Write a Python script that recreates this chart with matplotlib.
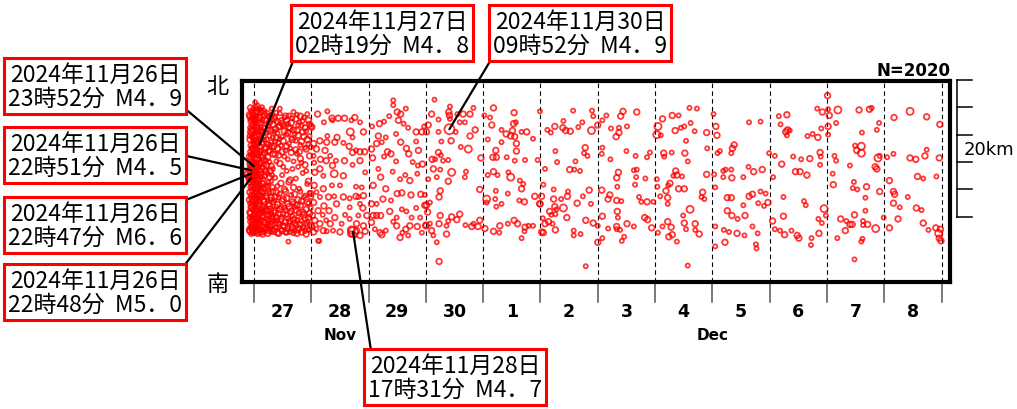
import matplotlib.pyplot as plt

plt.rcParams['font.family'] = ['DejaVu Sans']

# t = days since 2024-11-27 00:00, km = distance from the south edge, m = magnitude class
# dense part of Nov 27, read column by column: (t, [km...], "magnitudes")
nov27_cols = [
    (-0.08, [24.4, 21.3, 18.3, 15.1, 12.0, 9.4, 7.6], "2121212"),
    (-0.07, [24.1, 22.5, 20.8, 19.0, 17.2, 16.0, 14.6, 13.1, 11.5, 10.2, 8.8, 7.4], "212121221212"),
    (-0.06, [23.7, 21.9, 18.6, 15.5, 12.7, 10.0, 7.9, 25.4], "12121212"),
    (-0.05, [25.0, 23.4, 21.6, 19.9, 18.1, 16.6, 15.2, 13.8, 12.3, 10.9, 9.5, 8.0, 7.0], "1212211212121"),
    (-0.04, [22.2, 19.6, 16.9, 14.0, 11.0, 8.5], "212121"),
    (-0.03, [24.6, 22.9, 21.2, 19.4, 17.7, 16.2, 14.9, 13.4, 12.0, 10.6, 9.1, 7.7], "221212122122"),
    (-0.02, [24.0, 20.9, 18.4, 14.5, 11.7, 9.3, 7.4], "2121212"),
    (-0.01, [25.3, 23.8, 22.1, 20.5, 18.6, 17.0, 15.6, 14.1, 12.7, 11.2, 9.8, 8.3, 7.1], "1221212212121"),
    (0.00, [23.1, 19.9, 17.4, 15.0, 12.4, 9.6, 7.8], "1212121"),
    (0.01, [24.3, 22.7, 21.0, 19.3, 17.6, 15.9, 14.4, 12.9, 11.4, 10.0, 8.6, 7.3], "212212121221"),
    (0.02, [23.4, 20.1, 16.8, 13.7, 10.9, 8.0], "121212"),
    (0.03, [25.6, 23.9, 22.3, 20.6, 18.9, 17.3, 15.4, 13.6, 12.1, 10.7, 9.2, 7.8], "121221212122"),
    (0.04, [24.9, 21.8, 18.7, 16.1, 14.0, 11.6, 8.4], "2121212"),
    (0.05, [24.7, 23.1, 21.4, 19.7, 18.0, 16.4, 14.8, 13.3, 11.8, 10.3, 8.9, 7.5], "212121221212"),
    (0.06, [25.8, 22.5, 19.2, 15.8, 12.6, 9.8, 7.0], "1212121"),
    (0.07, [25.1, 22.0, 20.2, 18.4, 16.8, 15.1, 13.7, 12.2, 10.8, 9.4, 7.9], "12212121221"),
    (0.08, [23.6, 20.9, 17.0, 14.9, 11.9, 9.1], "212121"),
    (0.09, [24.0, 23.2, 21.5, 19.8, 17.9, 16.3, 14.5, 12.8, 11.3, 9.9, 8.4, 7.2], "221212121212"),
    (0.10, [23.9, 20.6, 17.3, 14.2, 11.1, 8.7], "212121"),
    (0.11, [25.2, 22.1, 18.8, 16.0, 13.3, 10.0, 7.7], "1212121"),
    (0.12, [24.8, 22.6, 20.9, 19.1, 17.4, 15.7, 14.0, 12.4, 10.6, 9.0, 7.6], "21212212121"),
    (0.135, [22.0, 18.2, 15.3, 13.1, 10.2, 7.3], "121212"),
    (0.15, [23.7, 21.9, 20.3, 18.5, 16.7, 14.3, 12.6, 11.0, 9.6, 8.1, 7.0], "12121212212"),
    (0.165, [24.9, 21.2, 17.8, 15.0, 12.0, 8.9], "212121"),
    (0.18, [24.5, 22.4, 20.7, 18.8, 17.1, 15.5, 13.5, 11.7, 10.1, 8.7, 7.4], "22121212121"),
    (0.195, [23.1, 19.4, 16.4, 13.8, 10.8, 7.9], "121212"),
    (0.21, [23.5, 21.8, 19.6, 17.8, 16.1, 14.2, 12.5, 10.5, 9.3, 7.7], "2121212212"),
    (0.225, [24.6, 20.8, 17.0, 12.9, 9.8, 8.1], "212121"),
    (0.24, [24.2, 22.2, 20.1, 18.2, 15.8, 13.9, 11.9, 10.4, 8.5, 7.1], "1212121212"),
    (0.255, [22.8, 19.1, 14.6, 11.4, 9.1, 7.5], "121212"),
    (0.27, [23.3, 21.3, 19.2, 17.5, 15.3, 13.0, 11.1, 9.7, 8.2], "212121212"),
    (0.285, [24.1, 20.0, 16.2, 12.0, 10.6, 7.8], "212121"),
    (0.30, [24.4, 22.1, 20.4, 16.9, 14.7, 12.3, 10.0, 8.8, 7.3], "121212121"),
    (0.315, [23.6, 19.7, 15.6, 13.8, 9.6, 8.4], "121212"),
    (0.33, [23.0, 21.1, 18.7, 16.5, 13.2, 11.6, 9.2, 7.6], "21212121"),
    (0.35, [7.4, 8.9, 10.4, 11.9, 19.8, 21.9, 23.8], "2121212"),
    (0.37, [24.1, 22.3, 20.5, 18.6, 15.2, 12.4, 10.1, 8.0], "12121221"),
    (0.39, [7.9, 9.4, 11.0, 13.1, 17.6, 21.0, 24.7], "1212121"),
    (0.41, [23.4, 21.7, 19.5, 14.0, 11.3, 9.0, 7.2], "2121212"),
    (0.43, [7.1, 8.6, 10.0, 12.3, 18.5, 20.3, 22.6], "2121212"),
    (0.45, [24.6, 22.8, 20.9, 17.3, 12.9, 10.6, 8.4], "1212121"),
    (0.47, [7.6, 9.2, 10.9, 14.4, 19.9, 23.5], "121212"),
    (0.49, [23.1, 21.2, 19.0, 15.6, 11.8, 9.5, 7.5], "2121212"),
    (0.51, [8.2, 9.9, 12.1, 16.8, 20.6, 22.8], "212121"),
    (0.53, [24.0, 22.0, 18.3, 13.5, 10.8, 8.1], "121212"),
    (0.55, [7.2, 8.7, 10.5, 13.2, 19.2, 24.2], "121212"),
    (0.57, [23.6, 21.5, 19.8, 16.2, 12.2, 9.8, 7.3], "2121212"),
    (0.59, [7.8, 9.3, 11.4, 17.9, 21.8, 23.1], "212121"),
    (0.61, [24.3, 22.6, 20.2, 14.6, 11.0, 8.7], "121221"),
    (0.63, [7.3, 8.9, 10.1, 14.9, 19.5, 22.4], "121212"),
    (0.65, [23.2, 21.0, 18.9, 12.7, 10.3, 7.8], "212121"),
    (0.67, [8.0, 9.6, 11.7, 16.5, 20.8, 23.9], "212121"),
    (0.69, [24.8, 22.2, 17.6, 13.8, 11.5, 9.1, 7.1], "1212121"),
    (0.71, [7.5, 8.6, 10.9, 12.8, 21.6], "12121"),
    (0.73, [23.8, 20.6, 19.3, 15.1, 10.5, 8.3], "212121"),
    (0.75, [7.1, 9.0, 11.2, 18.7, 22.1, 24.4], "212121"),
    (0.77, [22.9, 21.4, 16.8, 12.0, 9.6, 7.6], "121212"),
    (0.79, [7.8, 10.1, 13.6, 19.0, 23.3], "12121"),
    (0.81, [24.2, 20.0, 18.0, 13.2, 11.2, 8.5], "212121"),
    (0.83, [7.3, 8.9, 11.8, 17.4, 20.5, 22.8], "212121"),
    (0.85, [23.5, 21.9, 15.9, 10.2, 7.9], "12121"),
    (0.87, [8.1, 9.8, 12.4, 21.2, 24.0], "12121"),
    (0.89, [22.5, 19.6, 17.1, 12.6, 9.3, 7.4], "212121"),
    (0.91, [7.0, 8.5, 10.6, 16.2, 19.4, 22.0], "212121"),
    (0.93, [24.5, 20.8, 14.3, 11.6, 8.8], "12121"),
    (0.95, [7.6, 9.4, 11.5, 14.7, 20.1, 23.6], "121212"),
    (0.97, [23.0, 21.3, 18.4, 13.0, 10.0, 7.7], "212121"),
    (0.99, [8.3, 10.8, 12.9, 19.7, 22.7], "21212"),
]
nov27_extra = [(0.14, 25.5, 1), (0.31, 25.3, 1), (0.45, 25.3, 1), (0.02, 26.2, 1), (0.60, 5.9, 1)]

nov28 = [
    (1.11, 24.5, 2), (1.28, 24.9, 1), (1.36, 23.9, 2), (1.37, 23.6, 1), (1.47, 23.9, 2), (1.58, 23.9, 2),
    (1.70, 23.6, 1), (1.76, 24.0, 2), (1.85, 23.3, 1), (1.22, 23.3, 1), (1.01, 22.6, 2), (1.68, 21.9, 3),
    (1.72, 21.1, 1), (1.91, 21.9, 2), (1.45, 21.1, 2), (1.28, 21.3, 1), (1.15, 20.6, 2), (1.27, 20.4, 2),
    (1.41, 20.4, 2), (1.04, 20.2, 2), (1.09, 19.4, 2), (1.56, 20.3, 1), (1.66, 19.8, 2), (1.78, 19.2, 1),
    (1.93, 19.0, 2), (1.72, 18.9, 2), (1.85, 19.0, 2), (1.24, 19.2, 2), (1.33, 18.4, 1), (1.04, 18.4, 1),
    (1.16, 17.9, 2), (1.26, 17.7, 2), (1.05, 17.4, 1), (1.43, 17.7, 1), (1.58, 17.7, 2), (1.85, 17.7, 2),
    (1.72, 17.1, 1), (1.15, 16.5, 2), (1.37, 17.0, 2), (1.40, 15.8, 3), (1.21, 15.5, 1), (1.06, 16.0, 2),
    (1.56, 15.5, 2), (1.94, 16.0, 1), (1.36, 14.1, 1), (1.50, 14.1, 1), (1.05, 14.1, 2), (1.78, 13.9, 1),
    (1.88, 13.8, 1), (1.21, 13.6, 2), (1.09, 13.1, 1), (0.99, 12.5, 2), (1.15, 12.4, 1), (1.30, 12.4, 2),
    (1.40, 12.5, 1), (1.56, 12.4, 2), (1.78, 12.5, 2), (1.82, 12.4, 1), (1.91, 12.6, 2), (1.67, 12.2, 1),
    (1.04, 11.6, 2), (1.22, 11.1, 2), (1.44, 11.4, 2), (1.85, 11.4, 1), (1.67, 10.9, 1), (1.90, 10.8, 2),
    (1.12, 10.4, 2), (1.31, 10.4, 2), (1.02, 9.7, 2), (1.20, 9.8, 1), (1.41, 9.4, 2), (1.59, 9.8, 1),
    (1.82, 9.7, 1), (1.67, 9.2, 1), (1.06, 9.0, 2), (1.26, 9.0, 1), (1.97, 9.7, 2), (1.15, 8.5, 2),
    (1.33, 8.5, 2), (1.53, 8.5, 1), (1.79, 8.5, 2), (1.91, 8.2, 2), (1.01, 8.1, 2), (1.09, 7.7, 1),
    (1.21, 7.5, 2), (1.38, 7.5, 1), (1.50, 7.3, 2), (1.70, 7.6, 3), (1.79, 7.5, 2), (1.69, 7.0, 2),
    (1.85, 6.8, 2), (1.76, 6.8, 1), (1.94, 7.4, 2), (1.27, 7.4, 1), (1.14, 6.0, 1), (1.04, 7.3, 2),
    (1.12, 6.0, 1),
]
nov29 = [
    (2.43, 26.5, 1), (2.43, 25.8, 1), (2.65, 25.3, 1), (2.50, 24.8, 2), (2.56, 24.5, 2), (2.36, 24.2, 1),
    (2.52, 23.6, 2), (2.61, 23.1, 1), (2.69, 22.5, 1), (2.19, 23.1, 2), (2.27, 23.4, 1), (2.06, 22.7, 1),
    (2.83, 21.9, 2), (2.93, 21.9, 2), (2.97, 22.7, 1), (2.17, 21.3, 2), (2.30, 21.1, 1), (2.48, 21.6, 1),
    (2.56, 20.4, 2), (2.23, 20.4, 1), (2.14, 20.2, 2), (2.83, 20.5, 1), (2.33, 19.0, 2), (2.39, 18.7, 2),
    (2.27, 18.3, 1), (2.05, 19.4, 2), (2.66, 19.5, 2), (2.70, 18.7, 2), (2.87, 19.2, 2), (2.07, 18.1, 2),
    (2.48, 17.6, 1), (2.77, 17.5, 1), (2.86, 17.0, 1), (2.94, 17.2, 2), (2.17, 16.5, 1), (2.21, 15.3, 2),
    (2.42, 16.1, 1), (2.64, 15.6, 1), (2.55, 15.0, 1), (2.72, 14.8, 2), (2.85, 15.8, 1), (2.08, 14.1, 2),
    (2.30, 13.6, 2), (2.50, 12.9, 2), (2.58, 13.0, 2), (2.74, 12.7, 2), (2.91, 12.8, 2), (2.98, 12.7, 1),
    (2.25, 12.1, 2), (2.39, 11.9, 1), (2.05, 11.4, 2), (2.14, 11.4, 1), (2.98, 11.2, 2), (2.37, 10.3, 2),
    (2.58, 10.6, 1), (2.66, 10.3, 1), (2.83, 10.8, 1), (2.08, 9.7, 2), (2.14, 9.7, 2), (2.21, 9.7, 2),
    (2.49, 9.4, 1), (2.75, 9.4, 1), (2.90, 9.4, 1), (2.05, 8.7, 2), (2.43, 8.8, 1), (2.49, 8.2, 2),
    (2.72, 8.2, 2), (2.85, 8.1, 2), (3.00, 8.3, 2), (2.11, 7.7, 1), (2.20, 7.2, 2), (2.30, 7.5, 1),
    (2.59, 7.2, 1), (2.65, 7.7, 2), (2.93, 7.2, 1), (2.55, 6.5, 2), (2.23, 6.9, 2), (2.69, 6.8, 1),
]
nov30 = [
    (3.15, 26.6, 1), (3.42, 25.6, 1), (3.40, 24.8, 2), (3.41, 24.3, 2), (3.42, 23.8, 1), (3.10, 24.5, 2),
    (3.22, 23.7, 1), (3.04, 22.9, 2), (3.01, 21.9, 2), (3.55, 24.5, 1), (3.65, 24.5, 2), (3.77, 24.5, 2),
    (3.83, 25.4, 1), (3.59, 23.3, 1), (3.68, 23.3, 1), (3.52, 21.9, 1), (3.86, 22.2, 2), (3.22, 21.9, 1),
    (3.27, 20.5, 1), (3.44, 20.6, 2), (3.61, 19.7, 1), (3.77, 21.3, 2), (3.74, 19.4, 3), (3.22, 18.9, 2),
    (3.26, 18.5, 1), (3.16, 17.9, 1), (3.11, 17.9, 2), (3.30, 17.7, 1), (3.39, 17.8, 1), (3.96, 18.1, 2),
    (3.13, 16.5, 2), (3.25, 16.4, 1), (3.45, 16.0, 3), (3.39, 14.7, 2), (3.19, 15.3, 1), (3.70, 16.1, 1),
    (3.68, 15.3, 1), (3.04, 15.0, 1), (3.25, 13.3, 2), (3.23, 12.4, 2), (3.07, 11.6, 1), (3.94, 13.5, 2),
    (3.01, 11.2, 2), (3.03, 10.2, 2), (3.25, 9.7, 2), (3.45, 9.5, 2), (3.59, 9.9, 2), (3.54, 9.1, 2),
    (3.39, 8.9, 1), (3.36, 8.2, 1), (3.23, 8.5, 2), (3.07, 8.5, 1), (3.00, 8.2, 2), (3.10, 7.5, 2),
    (3.13, 6.8, 1), (3.19, 5.8, 1), (3.36, 7.0, 2), (3.69, 8.3, 1), (3.80, 8.1, 2), (3.83, 8.5, 1),
    (3.94, 9.0, 2), (3.91, 8.1, 2), (3.23, 3.0, 2),
]
dec1 = [
    (4.18, 25.4, 2), (4.12, 24.0, 1), (4.02, 24.3, 1), (4.54, 24.7, 2), (4.57, 23.3, 1), (4.53, 23.1, 2),
    (4.15, 22.9, 2), (4.32, 22.2, 1), (4.40, 21.6, 2), (4.48, 21.3, 2), (4.55, 21.2, 2), (4.51, 22.1, 2),
    (4.67, 21.9, 1), (4.76, 21.9, 2), (4.87, 20.9, 1), (4.08, 20.8, 1), (4.32, 20.4, 1), (4.58, 20.2, 2),
    (4.22, 19.2, 2), (4.58, 19.1, 2), (4.17, 18.2, 2), (4.23, 18.2, 2), (4.41, 18.2, 1), (4.55, 17.7, 1),
    (4.73, 17.8, 1), (4.95, 17.8, 1), (4.18, 16.1, 2), (4.08, 15.6, 1), (4.25, 15.6, 1), (4.48, 15.3, 3),
    (4.44, 16.0, 1), (4.64, 14.8, 1), (4.70, 14.3, 1), (4.67, 13.6, 2), (4.22, 13.3, 1), (4.06, 12.1, 3),
    (4.06, 11.6, 1), (4.21, 12.1, 1), (4.43, 12.9, 1), (4.63, 11.9, 1), (4.72, 11.7, 2), (4.90, 12.5, 2),
    (4.99, 11.4, 2), (4.23, 11.0, 1), (4.32, 11.4, 1), (4.54, 9.0, 2), (4.60, 8.5, 2), (4.73, 8.0, 2),
    (4.79, 8.2, 1), (4.87, 8.2, 1), (4.43, 8.5, 1), (4.29, 8.2, 2), (4.18, 7.4, 2), (4.28, 7.2, 1),
    (4.03, 7.8, 2), (4.72, 7.4, 1), (4.67, 6.4, 1), (5.02, 7.3, 2),
]
dec2 = [
    (4.99, 24.9, 1), (5.57, 25.0, 1), (5.90, 25.0, 1), (5.92, 24.2, 1), (5.25, 22.7, 2), (5.12, 22.2, 1),
    (5.18, 21.8, 1), (5.40, 23.5, 1), (5.39, 22.5, 2), (5.44, 22.1, 2), (5.52, 22.0, 2), (5.66, 22.6, 1),
    (5.73, 23.3, 1), (5.89, 22.1, 3), (5.26, 19.1, 1), (5.78, 19.6, 2), (5.76, 18.8, 1), (5.82, 18.4, 1),
    (5.29, 17.5, 1), (5.61, 17.6, 1), (5.08, 16.5, 1), (5.51, 16.4, 2), (5.59, 16.4, 1), (5.69, 16.2, 1),
    (5.05, 14.2, 1), (5.23, 13.5, 1), (5.48, 13.2, 1), (5.02, 12.5, 2), (5.23, 12.1, 2), (5.36, 12.1, 1),
    (5.47, 12.5, 2), (5.74, 12.5, 1), (5.85, 13.4, 2), (4.99, 11.4, 2), (5.64, 11.5, 2), (5.88, 11.4, 1),
    (5.25, 11.0, 2), (5.40, 10.8, 3), (5.16, 10.3, 2), (5.28, 10.6, 1), (5.19, 9.8, 1), (5.26, 9.9, 1),
    (5.46, 9.4, 2), (5.04, 9.3, 1), (5.14, 8.8, 2), (5.08, 8.5, 2), (5.21, 8.5, 1), (5.05, 7.2, 2),
    (5.26, 7.6, 2), (5.58, 7.5, 1), (5.58, 6.8, 1), (5.70, 7.0, 1), (5.79, 9.0, 2), (5.92, 8.6, 2),
    (6.00, 8.2, 1), (6.00, 5.8, 2), (5.79, 2.3, 1),
]
dec3 = [
    (6.00, 22.9, 2), (6.08, 23.6, 1), (6.15, 24.3, 1), (6.40, 24.2, 2), (6.44, 24.9, 2), (6.68, 24.8, 2),
    (6.23, 22.4, 1), (6.37, 22.5, 1), (6.51, 22.7, 1), (6.37, 21.8, 2), (6.32, 21.2, 2), (6.08, 19.6, 1),
    (6.07, 18.7, 1), (6.22, 17.9, 1), (6.50, 19.1, 1), (6.66, 18.4, 1), (6.91, 18.9, 1), (6.86, 18.2, 1),
    (6.36, 16.0, 2), (6.33, 15.2, 2), (6.68, 16.4, 1), (6.63, 16.3, 1), (6.67, 15.3, 1), (6.83, 15.1, 1),
    (6.34, 13.9, 1), (6.65, 14.2, 1), (6.07, 13.4, 2), (6.21, 12.7, 2), (6.18, 12.1, 2), (6.33, 11.9, 2),
    (6.41, 11.8, 1), (6.72, 12.4, 1), (6.76, 11.7, 1), (6.86, 11.7, 2), (6.97, 11.7, 1), (6.34, 10.3, 2),
    (6.35, 9.4, 1), (6.08, 9.6, 2), (6.51, 8.5, 2), (6.33, 8.1, 2), (6.33, 7.7, 1), (6.39, 7.6, 1),
    (6.18, 7.8, 1), (6.63, 8.1, 1), (6.82, 9.4, 2), (6.87, 9.1, 2), (6.94, 7.9, 2), (6.46, 6.6, 1),
    (6.42, 6.0, 1), (6.08, 6.4, 1),
]
dec4 = [
    (7.05, 22.7, 3), (7.03, 21.5, 3), (7.10, 21.4, 1), (7.13, 23.8, 2), (7.30, 24.3, 2), (7.41, 24.3, 1),
    (7.60, 25.4, 1), (7.73, 25.3, 1), (7.62, 23.2, 1), (7.51, 22.7, 1), (7.45, 22.5, 1), (7.35, 22.1, 2),
    (7.69, 22.0, 1), (7.90, 21.8, 2), (7.54, 20.6, 1), (7.91, 19.5, 1), (7.15, 18.8, 2), (7.16, 18.3, 1),
    (7.29, 18.9, 1), (7.52, 18.8, 2), (7.57, 17.6, 1), (7.36, 16.2, 2), (7.38, 15.6, 2), (7.32, 15.5, 1),
    (7.47, 15.4, 1), (7.90, 15.7, 2), (7.03, 15.0, 1), (7.26, 14.4, 2), (7.23, 14.1, 1), (7.04, 13.9, 1),
    (7.41, 13.6, 2), (7.51, 13.6, 2), (7.19, 13.3, 2), (7.83, 13.1, 2), (7.09, 12.5, 1), (7.22, 12.3, 2),
    (7.81, 12.4, 1), (7.86, 12.1, 1), (7.22, 11.4, 1), (7.61, 10.6, 3), (7.49, 9.7, 1), (7.22, 8.8, 2),
    (7.51, 8.6, 2), (7.13, 8.1, 1), (7.28, 8.0, 2), (7.70, 8.5, 2), (7.70, 7.6, 1), (7.54, 7.7, 1),
    (7.77, 7.0, 2), (7.05, 7.2, 1), (7.30, 6.9, 2), (7.24, 6.6, 2), (7.38, 5.9, 1), (7.57, 2.4, 1),
]
dec5 = [
    (8.02, 24.5, 1), (8.06, 22.7, 2), (8.08, 21.4, 2), (8.64, 23.3, 1), (8.84, 23.4, 1), (8.38, 20.0, 2),
    (8.35, 19.5, 2), (8.33, 18.8, 1), (8.13, 19.1, 1), (8.09, 18.8, 1), (8.99, 18.8, 1), (8.23, 16.4, 1),
    (8.19, 16.2, 1), (8.33, 16.4, 1), (8.63, 16.8, 1), (8.72, 16.1, 2), (8.87, 16.4, 2), (8.19, 15.3, 1),
    (8.34, 15.2, 2), (8.54, 15.3, 1), (8.05, 13.8, 1), (8.03, 15.7, 1), (8.26, 12.3, 2), (8.33, 12.3, 2),
    (8.64, 12.5, 2), (8.70, 12.8, 2), (8.84, 13.2, 1), (8.93, 12.9, 1), (8.97, 11.6, 2), (8.80, 11.5, 1),
    (8.90, 11.1, 1), (8.54, 11.2, 1), (8.26, 10.4, 2), (8.34, 9.7, 2), (8.44, 9.2, 1), (8.57, 9.7, 2),
    (8.70, 8.1, 1), (8.05, 8.1, 1), (8.20, 7.6, 1), (8.29, 7.3, 1), (8.43, 7.1, 2), (8.56, 6.8, 1),
    (8.79, 7.1, 1), (8.22, 5.8, 2), (8.76, 5.5, 1), (8.77, 4.9, 1), (8.05, 5.2, 1),
]
dec6 = [
    (9.16, 24.2, 1), (9.30, 24.4, 2), (9.19, 23.0, 1), (9.31, 22.2, 2), (9.28, 21.9, 2), (9.35, 22.1, 1),
    (9.30, 21.4, 1), (9.66, 21.3, 1), (9.75, 21.6, 1), (9.84, 21.1, 2), (9.90, 22.4, 1), (9.83, 25.3, 1),
    (9.92, 24.8, 2), (9.09, 18.4, 1), (9.41, 18.3, 1), (9.55, 17.9, 1), (9.70, 18.0, 2), (9.88, 18.9, 2),
    (9.89, 18.3, 1), (9.21, 17.2, 2), (9.88, 17.1, 1), (9.06, 15.3, 1), (9.45, 16.1, 2), (9.53, 16.1, 2),
    (9.65, 15.6, 2), (9.24, 12.4, 1), (9.60, 11.8, 1), (9.63, 11.2, 1), (9.95, 10.7, 3), (9.98, 9.7, 1),
    (9.24, 9.6, 2), (9.05, 8.9, 2), (9.85, 9.2, 1), (9.91, 8.6, 1), (9.09, 7.7, 1), (9.18, 7.5, 1),
    (9.26, 6.9, 2), (9.38, 7.5, 1), (9.48, 6.8, 2), (9.51, 6.4, 2), (9.73, 6.4, 1), (9.72, 5.4, 1),
    (9.86, 7.1, 2),
]
dec7 = [
    (10.01, 27.2, 2), (10.02, 25.2, 1), (10.04, 24.3, 2), (10.02, 22.7, 2), (10.02, 21.5, 1), (10.19, 25.1, 3),
    (10.16, 23.2, 1), (10.56, 25.1, 2), (10.74, 25.2, 2), (10.78, 25.4, 1), (10.61, 21.8, 1), (10.87, 22.2, 1),
    (10.91, 23.2, 1), (10.49, 19.9, 1), (10.60, 19.8, 3), (10.52, 19.2, 2), (10.60, 18.8, 3), (10.89, 18.1, 3),
    (10.92, 18.4, 1), (10.13, 18.4, 1), (10.16, 17.7, 1), (10.40, 17.0, 1), (10.84, 16.8, 2), (10.87, 16.5, 2),
    (10.10, 15.8, 1), (10.47, 14.6, 1), (10.11, 14.2, 2), (10.45, 13.7, 1), (10.53, 13.5, 1), (10.69, 13.9, 2),
    (10.92, 13.2, 2), (10.67, 12.3, 1), (10.67, 10.4, 1), (10.48, 9.8, 2), (10.24, 9.2, 2), (10.34, 8.9, 1),
    (10.40, 8.4, 2), (10.44, 8.4, 2), (10.63, 8.9, 1), (10.63, 8.3, 1), (10.71, 8.4, 2), (10.85, 7.8, 3),
    (10.32, 7.5, 2), (10.18, 6.4, 1), (10.62, 6.3, 1), (10.60, 5.9, 1), (10.99, 9.4, 1), (10.48, 3.3, 1),
]
dec8 = [
    (11.17, 24.0, 2), (11.45, 24.9, 3), (11.74, 24.1, 2), (11.97, 23.0, 2), (11.16, 18.7, 1), (11.05, 18.2, 1),
    (11.45, 18.1, 2), (11.55, 17.9, 2), (11.71, 18.4, 2), (11.74, 19.3, 1), (11.96, 18.1, 2), (11.09, 14.8, 2),
    (11.58, 15.4, 2), (11.68, 15.1, 1), (11.91, 15.4, 1), (11.16, 13.2, 2), (11.18, 12.8, 2), (11.41, 12.4, 1),
    (11.16, 11.5, 2), (11.27, 10.9, 1), (11.56, 10.8, 2), (11.65, 10.5, 1), (11.24, 9.2, 2), (11.09, 7.9, 2),
    (11.68, 8.6, 2), (11.77, 7.6, 1), (11.90, 7.9, 2), (11.98, 7.7, 2), (11.95, 7.1, 3), (11.96, 6.4, 2),
    (11.99, 6.0, 2),
]

# labelled events
ev_t = [-0.006, -0.047, -0.051, -0.050, 0.097, 1.730, 3.411]
ev_km = [16.9, 16.3, 15.8, 15.2, 20.1, 7.3, 22.3]
ev_m = [4.9, 4.5, 6.6, 5.0, 4.8, 4.7, 4.9]
ev_text = [
    "2024年11月26日\n23時52分  M4．9",
    "2024年11月26日\n22時51分  M4．5",
    "2024年11月26日\n22時47分  M6．6",
    "2024年11月26日\n22時48分  M5．0",
    "2024年11月27日\n02時19分  M4．8",
    "2024年11月28日\n17時31分  M4．7",
    "2024年11月30日\n09時52分  M4．9",
]
day_labels = ['27', '28', '29', '30', '1', '2', '3', '4', '5', '6', '7', '8']
month_labels = ['Nov', 'Dec']
n_total = 2020

# collect points
t, km, m = [], [], []
for tc, kms, mags in nov27_cols:
    for k, mg in zip(kms, mags):
        t.append(tc); km.append(k); m.append(float(mg))
for day in [nov27_extra, nov28, nov29, nov30, dec1, dec2, dec3, dec4, dec5, dec6, dec7, dec8]:
    for a, b, c in day:
        t.append(a); km.append(b); m.append(c)
t += ev_t; km += ev_km; m += ev_m


def msize(mag):
    d = (2.6 + 1.5 * mag) * 0.72
    return d * d


W, H = 1017, 410
fig = plt.figure(figsize=(W / 100, H / 100), dpi=100)
L, R, T, B = 241.5, 950, 81.5, 283
ax = fig.add_axes([L / W, 1 - B / H, (R - L) / W, (B - T) / H])
ax.set_xlim(-0.218, 12.147)
ax.set_ylim(0, 29.4)
ax.set_xticks([]); ax.set_yticks([])
for s in ax.spines.values():
    s.set_linewidth(3.0)
    s.set_zorder(5)

for d in range(13):
    ax.axvline(d, color='k', lw=0.8, ls=(0, (4, 3)), zorder=1)
    ax.plot([d, d], [0, -2.9], color='#555555', lw=1.1, clip_on=False)

ax.scatter(t, km, s=[msize(v) for v in m], facecolors='none',
           edgecolors=(1, 0, 0, 0.78), linewidths=1.3, zorder=3)

for i, lab in enumerate(day_labels):
    ax.text(i + 0.5, -4.2, lab, ha='center', va='center', fontsize=12.5, fontweight='bold')
ax.text(1.5, -7.7, month_labels[0], ha='center', va='center', fontsize=11, fontweight='bold')
ax.text(8.0, -7.7, month_labels[1], ha='center', va='center', fontsize=11, fontweight='bold')

ax.text(12.147, 31.0, f"N={n_total}", ha='right', va='center', fontsize=12, fontweight='bold')

jp = ['Noto Sans CJK JP', 'DejaVu Sans']
ax.text(-0.63, 28.6, '北', ha='center', va='center', fontsize=16, family=jp)
ax.text(-0.63, -0.2, '南', ha='center', va='center', fontsize=16, family=jp)

# 20 km scale bar
sx = 12.27
ax.plot([sx, sx], [9.5, 29.5], color='k', lw=1.1, clip_on=False)
for k in range(6):
    ax.plot([sx, sx + 0.26], [9.5 + 4 * k, 9.5 + 4 * k], color='k', lw=1.1, clip_on=False)
ax.text(12.39, 19.4, '20km', ha='left', va='center', fontsize=13)

# callout boxes (centre in figure pixels) and where the leader line leaves the box
box_xy = [(95, 323), (95, 254), (95, 184), (95, 117), (382, 376), (455, 32), (580, 376)]
box_rel = [(1, 0.07), (1, 0.5), (1, 1), (1, 1), (0, 0), (0.02, 1), (0, 0)]
for i in range(len(ev_text)):
    ax.annotate(ev_text[i], xy=(ev_t[i], ev_km[i]), xycoords='data',
                xytext=box_xy[i], textcoords='figure pixels',
                ha='center', va='center', multialignment='center',
                fontsize=16.5, family=jp, linespacing=1.05,
                bbox=dict(boxstyle='square,pad=0.18', fc='white', ec='#ff0000', lw=2.2),
                arrowprops=dict(arrowstyle='-', color='k', lw=1.6, shrinkA=0, shrinkB=0,
                                relpos=box_rel[i]),
                annotation_clip=False, zorder=6)

fig.savefig('out.png', dpi=100)
